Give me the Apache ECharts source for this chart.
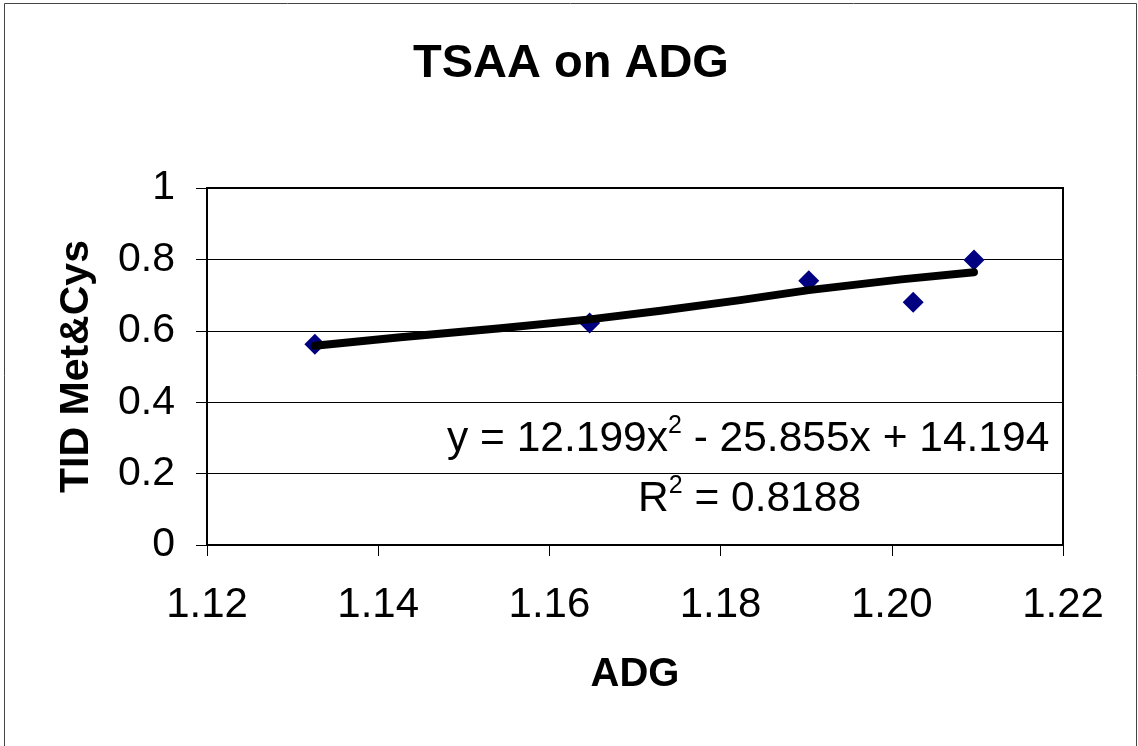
<!DOCTYPE html>
<html>
<head>
<meta charset="utf-8">
<script src="https://cdn.jsdelivr.net/npm/echarts@6/dist/echarts.min.js"></script>
<style>
html,body{margin:0;padding:0;background:#fff;}
#c{width:1138px;height:746px;}
</style>
</head>
<body>
<div id="c"></div>
<script>
// Data
const adg = [1.1326, 1.1647, 1.1903, 1.2025, 1.2096];
const tid = [0.562, 0.622, 0.740, 0.680, 0.798];
// Trend line points
const trendX = [1.1326, 1.1426, 1.1543, 1.1647, 1.1730, 1.1823, 1.1903, 1.2011, 1.2096];
const trendY = [0.558, 0.582, 0.607, 0.632, 0.656, 0.686, 0.714, 0.744, 0.764];
const xTicks = [1.12, 1.14, 1.16, 1.18, 1.20, 1.22];
const yTicks = [0, 0.2, 0.4, 0.6, 0.8, 1];
const titleText = 'TSAA on ADG';
const xName = 'ADG';
const yName = 'TID Met&Cys';

const FONT = '"Liberation Sans", Arial, sans-serif';
const chart = echarts.init(document.getElementById('c'), null, {renderer: 'canvas'});

const pts = adg.map((x, i) => [x, tid[i]]);
const trend = trendX.map((x, i) => [x, trendY[i]]);

chart.setOption({
  animation: false,
  backgroundColor: '#fff',
  title: {
    text: titleText,
    left: 413, top: 41, padding: 0,
    textStyle: {fontFamily: FONT, fontSize: 47, fontWeight: 'bold', color: '#000'}
  },
  grid: {
    left: 207, top: 188, right: 75, bottom: 201,
    show: true, borderColor: '#000', borderWidth: 2, backgroundColor: '#fff'
  },
  xAxis: {
    type: 'value', min: 1.12, max: 1.22, interval: 0.02,
    name: xName, nameLocation: 'middle', nameGap: 110,
    nameTextStyle: {fontFamily: FONT, fontSize: 40, fontWeight: 'bold', color: '#000'},
    axisLine: {show: true, lineStyle: {color: '#000', width: 2}},
    axisTick: {show: true, inside: false, length: 11, lineStyle: {color: '#000', width: 1}},
    axisLabel: {
      fontFamily: FONT, fontSize: 42, color: '#000', margin: 39,
      formatter: v => { const t = xTicks.find(k => Math.abs(k - v) < 1e-9); return (t !== undefined ? t : v).toFixed(2); }
    },
    splitLine: {show: false}
  },
  yAxis: {
    type: 'value', min: 0, max: 1, interval: 0.2,
    name: yName, nameLocation: 'middle', nameGap: 110, nameRotate: 90,
    nameTextStyle: {fontFamily: FONT, fontSize: 41, fontWeight: 'bold', color: '#000'},
    axisLine: {show: true, lineStyle: {color: '#000', width: 2}},
    axisTick: {show: true, inside: false, length: 11, lineStyle: {color: '#000', width: 1}},
    axisLabel: {
      fontFamily: FONT, fontSize: 41, color: '#000', margin: 32,
      formatter: v => { const t = yTicks.find(k => Math.abs(k - v) < 1e-9); return String(t !== undefined ? t : v); }
    },
    splitLine: {show: true, lineStyle: {color: '#000', width: 1}}
  },
  series: [
    {
      type: 'scatter', data: pts, symbol: 'diamond', symbolSize: [21, 21],
      itemStyle: {color: '#000080', opacity: 1}, z: 2
    },
    {
      type: 'line', data: trend, showSymbol: false, smooth: false,
      lineStyle: {color: '#000', width: 8, cap: 'round', join: 'round'}, z: 3
    }
  ],
  graphic: [
    {
      type: 'rect', silent: true, z: -10,
      shape: {x: 4.5, y: 3.5, width: 1132, height: 760},
      style: {fill: 'none', stroke: '#444', lineWidth: 1}
    },
    {
      type: 'text', x: 447, y: 414, z: 10,
      style: {
        text: 'y = 12.199x{sup|2} - 25.855x + 14.194',
        font: '42.5px ' + FONT, fill: '#000',
        rich: {sup: {fontSize: 25, fontFamily: FONT, verticalAlign: 'top', padding: [0, 0, 26, 0], fill: '#000'}}
      }
    },
    {
      type: 'text', x: 638, y: 474, z: 10,
      style: {
        text: 'R{sup|2} = 0.8188',
        font: '42.5px ' + FONT, fill: '#000',
        rich: {sup: {fontSize: 25, fontFamily: FONT, verticalAlign: 'top', padding: [0, 0, 26, 0], fill: '#000'}}
      }
    }
  ]
});
</script>
</body>
</html>
